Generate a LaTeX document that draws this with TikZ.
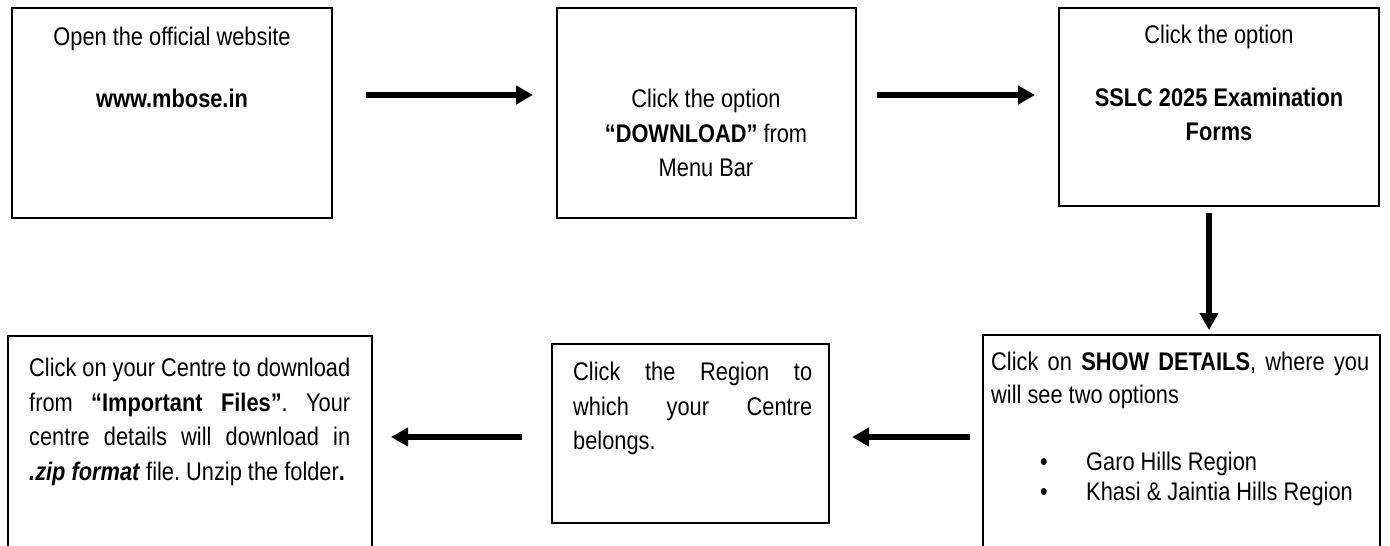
\documentclass[tikz,border=0pt]{standalone}
\usepackage{fontspec}
\setmainfont{Liberation Sans}[FakeStretch=0.855]
\usetikzlibrary{arrows.meta}

\tikzset{
  box/.style={draw, line width=1.8pt, inner sep=0pt, outer sep=0pt, anchor=north west},
  txt/.style={inner sep=0pt, anchor=base},
  txtl/.style={inner sep=0pt, anchor=base west},
  flow/.style={line width=6.5pt, -{Triangle[length=17pt,width=18pt]}},
}
% one justified line of a paragraph
\newcommand{\jline}[2]{\makebox[#1][s]{#2}}

\begin{document}
\frenchspacing
\begin{tikzpicture}[x=1pt,y=-1pt,
  every node/.append style={font=\fontsize{25.5pt}{34.5pt}\selectfont}]
  \path[use as bounding box, fill=white] (0,0) rectangle (1390,546);
  \clip (0,0) rectangle (1390,546);

  % step boxes
  \node[box, minimum width=320pt, minimum height=210pt] (b1) at (12,8) {};
  \node[box, minimum width=299pt, minimum height=210pt] (b2) at (557,8) {};
  \node[box, minimum width=320pt, minimum height=198pt] (b3) at (1059,8) {};
  \node[box, minimum width=397pt, minimum height=230pt] (b4) at (983,335) {};
  \node[box, minimum width=277pt, minimum height=179pt] (b5) at (552,344) {};
  \node[box, minimum width=364pt, minimum height=230pt] (b6) at (8,336) {};

  % box 1
  \node[txt] (t1a) at (172,45) {Open the official website};
  \node[txt] (t1b) at (172,107) {\textbf{www.mbose.in}};

  % box 2
  \node[txt] (t2a) at (706,107) {Click the option};
  \node[txt] (t2b) at (706,142) {\textbf{“DOWNLOAD”} from};
  \node[txt] (t2c) at (706,176) {Menu Bar};

  % box 3
  \node[txt] (t3a) at (1219,43) {Click the option};
  \node[txt] (t3b) at (1219,106) {\textbf{SSLC 2025 Examination}};
  \node[txt] (t3c) at (1219,140) {\textbf{Forms}};

  % box 4
  \node[txtl] (t4a) at (991,370) {\jline{378pt}{Click on \textbf{SHOW DETAILS}, where you}};
  \node[txtl] (t4b) at (991,403) {will see two options};
  \node[txt]  (t4c) at (1044,470) {\textbullet};
  \node[txtl] (t4d) at (1086,470) {Garo Hills Region};
  \node[txt]  (t4e) at (1044,500) {\textbullet};
  \node[txtl] (t4f) at (1086,500) {Khasi \& Jaintia Hills Region};

  % box 5
  \node[txtl] (t5a) at (573,380) {\jline{239pt}{Click the Region to}};
  \node[txtl] (t5b) at (573,415) {\jline{239pt}{which your Centre}};
  \node[txtl] (t5c) at (573,449) {belongs.};

  % box 6
  \node[txtl] (t6a) at (29,376) {\jline{321pt}{Click on your Centre to download}};
  \node[txtl] (t6b) at (29,411) {\jline{321pt}{from \textbf{“Important Files”}. Your}};
  \node[txtl] (t6c) at (29,445) {\jline{321pt}{centre details will download in}};
  \node[txtl] (t6d) at (29,480) {\textbf{\textit{.zip format}} file. Unzip the folder\textbf{.}};

  % connectors
  \draw[flow, shorten <=34pt, shorten >=24pt] (b1.east |- 0,95) -- (b2.west |- 0,95);
  \draw[flow, shorten <=21pt, shorten >=24pt] (b2.east |- 0,95) -- (b3.west |- 0,95);
  \draw[flow, shorten <=7pt, shorten >=5pt] (b3.south -| 1209,0) -- (b4.north -| 1209,0);
  \draw[flow, shorten <=13pt, shorten >=23pt] (b4.west |- 0,437) -- (b5.east |- 0,437);
  \draw[flow, shorten <=30pt, shorten >=19pt] (b5.west |- 0,437) -- (b6.east |- 0,437);
\end{tikzpicture}
\end{document}
